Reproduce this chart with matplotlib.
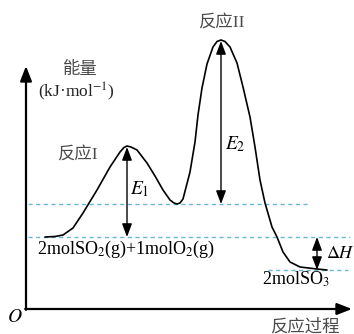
import matplotlib
matplotlib.use("Agg")
import matplotlib.pyplot as plt

plt.rcParams['mathtext.fontset'] = 'stix'

# Reaction progress (x) and energy (y, arbitrary units)
progress = [45, 55, 63, 73, 83, 97, 110, 120, 124, 127, 131, 137, 147, 155, 163,
            170, 174, 177, 180, 183, 190, 195, 198, 202, 207, 213, 217, 221, 225,
            230, 237, 243, 250, 255, 260, 265, 272, 277, 283, 290, 300, 317, 327]
energy = [97, 97.5, 99, 106, 121, 144, 167, 182, 186.5, 188, 187, 184, 171, 158, 144,
          134, 131, 130, 131, 135, 162, 192, 219, 246, 270, 287, 292.5, 294, 292.5,
          287, 271, 247, 217, 187, 154, 131, 107, 97, 82, 72, 67, 65, 64]

# Key levels
E_reactant = 97
E_intermediate = 130
E_product = 64
E_ts1 = 188
E_ts2 = 294
x_ts1 = 127
x_ts2 = 221
x_dH = 317

labels = {
    'ts2': '反应II',
    'ts1': '反应I',
    'ylabel': '能量',
    'unit': '(kJ·mol$^{-1}$)',
    'reactant': '2molSO$_2$(g)+1molO$_2$(g)',
    'product': '2molSO$_3$',
    'xlabel': '反应过程',
}

W, H = 354, 334
fig = plt.figure(figsize=(W / 100, H / 100), dpi=100)
ax = fig.add_axes([0, 0, 1, 1])
ax.set_xlim(0, W)
ax.set_ylim(0, H)
ax.axis('off')

serif = ['Liberation Serif', 'Noto Sans CJK SC']
gray = '#4a4a4a'
blue = '#6ab8d6'

# axes with arrows
ax_x0, ax_y0 = 26, 25
ax.annotate('', xy=(ax_x0, 268), xytext=(ax_x0, ax_y0 - 0.8),
            arrowprops=dict(arrowstyle='-|>,head_length=0.9,head_width=0.35',
                            lw=1.6, color='black', shrinkA=0, shrinkB=0))
ax.annotate('', xy=(352, ax_y0), xytext=(ax_x0 - 0.8, ax_y0),
            arrowprops=dict(arrowstyle='-|>,head_length=0.9,head_width=0.35',
                            lw=1.6, color='black', shrinkA=0, shrinkB=0))

# dashed reference levels
dash = dict(color=blue, lw=1.0, dashes=(3, 2.5))
ax.plot([28, 308], [E_intermediate, E_intermediate], **dash)
ax.plot([28, 350], [E_reactant, E_reactant], **dash)
ax.plot([268, 348], [E_product, E_product], **dash)

# energy curve
ax.plot(progress, energy, color='black', lw=1.2, solid_joinstyle='round',
        solid_capstyle='round')

# double arrows
arr = dict(arrowstyle='<|-|>,head_length=0.8,head_width=0.3', lw=1.0,
           color='black', shrinkA=0, shrinkB=0, mutation_scale=10)
ax.annotate('', xy=(x_ts1, E_ts1 - 1), xytext=(x_ts1, E_reactant), arrowprops=arr)
ax.annotate('', xy=(x_ts2, E_ts2 - 1), xytext=(x_ts2, E_intermediate), arrowprops=arr)
ax.annotate('', xy=(x_dH, E_reactant), xytext=(x_dH, E_product), arrowprops=arr)

# texts
fs = 12.5
ax.text(221, 311, labels['ts2'], family=serif, fontsize=fs, color=gray,
        ha='center', va='center')
ax.text(77, 179, labels['ts1'], family=serif, fontsize=fs, color=gray,
        ha='center', va='center')
ax.text(80, 264, labels['ylabel'], family=serif, fontsize=fs, color=gray,
        ha='center', va='center')
ax.text(76, 242, labels['unit'], family=serif, fontsize=fs, color='#222222',
        ha='center', va='center')
ax.text(37, 80, labels['reactant'], family=serif, fontsize=13, color='black',
        ha='left', va='baseline')
ax.text(262, 49, labels['product'], family=serif, fontsize=13, color='black',
        ha='left', va='baseline')
ax.text(305, 7, labels['xlabel'], family=serif, fontsize=fs, color=gray,
        ha='center', va='center')
ax.text(15, 17, '$O$', fontsize=14, color='black', ha='center', va='center')
ax.text(130, 145, '$E_1$', fontsize=14, color='black', ha='left', va='center')
ax.text(225, 190, '$E_2$', fontsize=14, color='black', ha='left', va='center')
ax.text(326, 81, r'$\Delta H$', fontsize=13, color='black', ha='left', va='center')

fig.savefig('out.png', dpi=100)
